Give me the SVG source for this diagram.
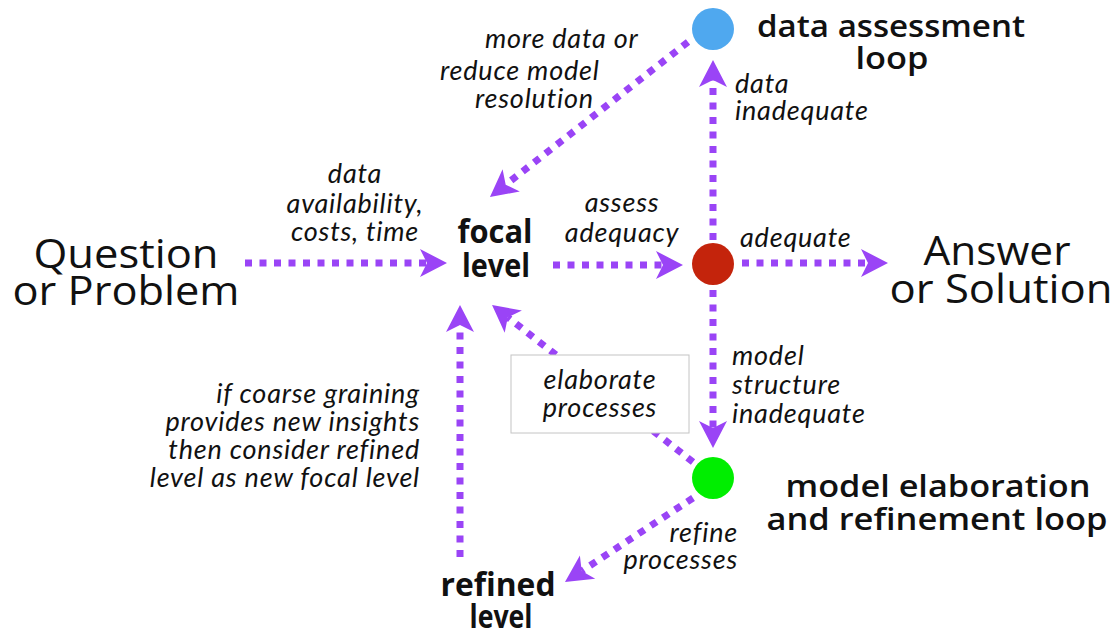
<svg xmlns="http://www.w3.org/2000/svg" width="1120" height="636" viewBox="0 0 1120 636">
<defs>
<style>
text{font-family:"Open Sans",Lato,"DejaVu Sans",sans-serif;fill:#111}
.big{font-size:40px;font-weight:500}
.node{font-size:32px;font-weight:700}
.loop{font-size:31px;font-weight:600}
.lab{font-family:Lato,"Open Sans",sans-serif;font-size:27px;font-style:italic;font-weight:400;letter-spacing:0.8px}
.c{text-anchor:middle}
.r{text-anchor:end}
.dl{fill:none;stroke:#9a44f6;stroke-width:7;stroke-dasharray:7 7.5;marker-end:url(#ah)}
</style>
<marker id="ah" markerUnits="userSpaceOnUse" markerWidth="40" markerHeight="40" viewBox="-10 -20 40 40" refX="0" refY="0" orient="auto">
<path d="M20,0 L-7,-14 L0,0 L-7,14 Z" fill="#9a44f6"/>
</marker>
</defs>
<rect width="1120" height="636" fill="#fff"/>
<g id="connectors">
<path class="dl" d="M245,263 L427,263"/>
<path class="dl" d="M553,265 L663,265"/>
<path class="dl" d="M742,263 L868,263"/>
<path class="dl" d="M713,240 L713,80"/>
<path class="dl" d="M688,42 L505.7,184.7"/>
<path class="dl" d="M713,290 L713,428"/>
<path class="dl" d="M693,462 L507.8,317.3"/>
<path class="dl" d="M693,498 L581.7,571"/>
<path class="dl" d="M460,557 L460,325"/>
</g>
<g id="question"><text class="big c" x="126" y="268" textLength="185" lengthAdjust="spacingAndGlyphs">Question</text><text class="big c" x="126" y="305" textLength="227" lengthAdjust="spacingAndGlyphs">or Problem</text></g>
<g id="focal"><text class="node c" x="495" y="243" textLength="75" lengthAdjust="spacingAndGlyphs">focal</text><text class="node c" x="496" y="277" textLength="68" lengthAdjust="spacingAndGlyphs">level</text></g>
<g id="answer"><text class="big c" x="997" y="265" textLength="147" lengthAdjust="spacingAndGlyphs">Answer</text><text class="big c" x="1001" y="303" textLength="223" lengthAdjust="spacingAndGlyphs">or Solution</text></g>
<g id="refined"><text class="node c" x="498" y="596" textLength="115" lengthAdjust="spacingAndGlyphs">refined</text><text class="node c" x="501" y="628" textLength="63" lengthAdjust="spacingAndGlyphs">level</text></g>
<g id="blue-node"><circle cx="713" cy="29" r="21" fill="#4fa8ef"/><text class="loop c" x="891" y="37" textLength="268" lengthAdjust="spacingAndGlyphs">data assessment</text><text class="loop c" x="892" y="69" textLength="73" lengthAdjust="spacingAndGlyphs">loop</text></g>
<g id="red-node"><circle cx="713" cy="264" r="21" fill="#c4240c"/></g>
<g id="green-node"><circle cx="713" cy="478" r="21" fill="#00ee00"/><text class="loop c" x="938" y="497" textLength="305" lengthAdjust="spacingAndGlyphs">model elaboration</text><text class="loop c" x="937" y="530" textLength="341" lengthAdjust="spacingAndGlyphs">and refinement loop</text></g>
<g id="labels">
<text class="lab c" x="355" y="183">data</text>
<text class="lab c" x="355" y="213">availability,</text>
<text class="lab c" x="355" y="241">costs, time</text>
<text class="lab c" x="622" y="212">assess</text>
<text class="lab c" x="622" y="242">adequacy</text>
<text class="lab" x="740" y="247">adequate</text>
<text class="lab" x="735" y="93">data</text>
<text class="lab" x="735" y="120">inadequate</text>
<text class="lab" x="485" y="48">more data or</text>
<text class="lab" x="440" y="80">reduce model</text>
<text class="lab" x="475" y="108">resolution</text>
<text class="lab" x="732" y="365">model</text>
<text class="lab" x="732" y="394">structure</text>
<text class="lab" x="732" y="423">inadequate</text>
<text class="lab r" x="738" y="542">refine</text>
<text class="lab r" x="738" y="569">processes</text>
<text class="lab r" x="420" y="403">if coarse graining</text>
<text class="lab r" x="420" y="431">provides new insights</text>
<text class="lab r" x="420" y="459">then consider refined</text>
<text class="lab r" x="420" y="487">level as new focal level</text>
</g>
<g id="elaborate-box"><rect x="511" y="355" width="178" height="78" fill="#fff" stroke="#c4c4c4" stroke-width="1"/><text class="lab c" x="600" y="389">elaborate</text><text class="lab c" x="600" y="417">processes</text></g>
</svg>
